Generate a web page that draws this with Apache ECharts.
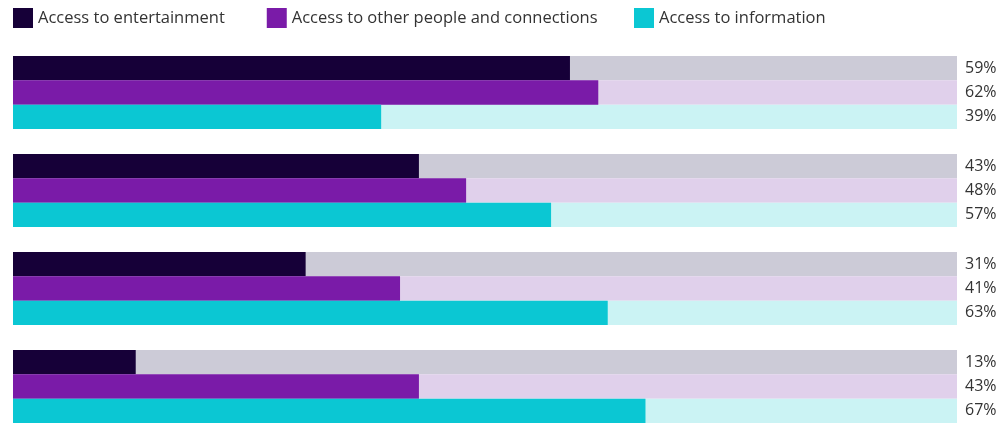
<!DOCTYPE html>
<html>
<head>
<meta charset="utf-8">
<script src="https://cdn.jsdelivr.net/npm/echarts@6/dist/echarts.min.js"></script>
<style>html,body{margin:0;padding:0;background:#fff}#c{width:999px;height:425px}</style>
</head>
<body>
<div id="c"></div>
<script>
const categories = ['Group 1', 'Group 2', 'Group 3', 'Group 4'];
const seriesNames = ['Access to entertainment', 'Access to other people and connections', 'Access to information'];
const entertainment = [59, 43, 31, 13];
const people = [62, 48, 41, 43];
const information = [39, 57, 63, 67];
const fullScale = [100, 100, 100, 100];

const values = [entertainment, people, information];
const colors = ['#160038', '#7a1ba8', '#0bc7d3'];
const bgColors = ['#cccbd7', '#e0d0eb', '#cbf3f4'];
const font = '"Open Sans", sans-serif';

const series = [];
values.forEach((arr, i) => {
  series.push({
    name: seriesNames[i] + ' bg',
    type: 'bar',
    yAxisIndex: 0,
    data: fullScale,
    barWidth: 24.4,
    barGap: '0%',
    silent: true,
    itemStyle: { color: bgColors[i] },
    label: {
      show: true,
      position: 'right',
      distance: 8,
      color: '#333',
      fontSize: 16,
      fontFamily: font,
      formatter: p => arr[p.dataIndex] + '%'
    }
  });
});
values.forEach((arr, i) => {
  series.push({
    name: seriesNames[i],
    type: 'bar',
    yAxisIndex: 1,
    data: arr,
    barWidth: 24.4,
    barGap: '0%',
    itemStyle: { color: colors[i] }
  });
});

const legendBase = {
  top: 3,
  icon: 'rect',
  itemWidth: 20,
  itemHeight: 20,
  itemGap: 42,
  textStyle: { fontSize: 16.5, color: '#333', fontFamily: font }
};

const chart = echarts.init(document.getElementById('c'));
chart.setOption({
  animation: false,
  color: colors,
  legend: [
    Object.assign({}, legendBase, { data: seriesNames.slice(0, 2), left: 8 }),
    Object.assign({}, legendBase, { data: seriesNames.slice(2), left: 629 })
  ],
  grid: { left: 13, right: 42, top: 43.5, height: 392, containLabel: false, outerBoundsMode: 'none' },
  xAxis: { type: 'value', min: 0, max: 100, show: false },
  yAxis: [
    { type: 'category', data: categories, inverse: true, show: false },
    { type: 'category', data: categories, inverse: true, show: false }
  ],
  series: series
});
</script>
</body>
</html>
